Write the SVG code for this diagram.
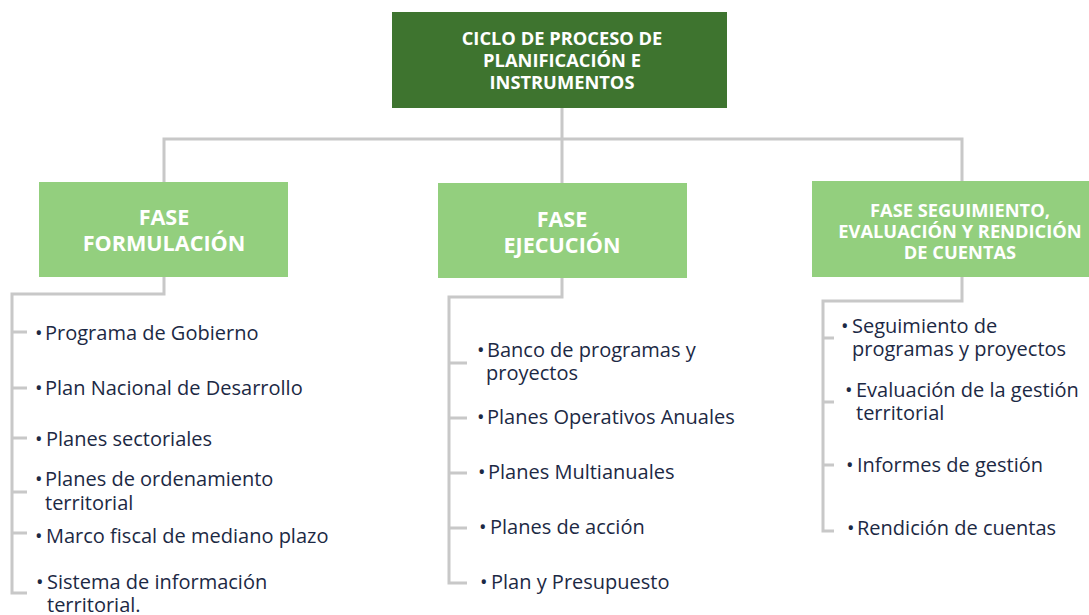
<svg xmlns="http://www.w3.org/2000/svg" width="1089" height="615" viewBox="0 0 1089 615">
<style>
.bg{fill:#ffffff}
.root{fill:#3e742f}
.phase{fill:#93cf7e}
.hd{font-family:"Open Sans","Liberation Sans",sans-serif;font-weight:bold;fill:#ffffff;text-anchor:middle}
.it{font-family:"Open Sans","Liberation Sans",sans-serif;font-size:20px;fill:#1c2944}
.ln{fill:none;stroke:#c8c8c8;stroke-width:3}
</style>
<rect class="bg" x="0" y="0" width="1089" height="615"/>
<g id="connectors">
<path class="ln" d="M562 108 V139 M164 182 V139 H962 V181 M562 139 V183"/>
<path class="ln" d="M164 277 V294 H12 V593 H27 M12 332 H27 M12 388 H27 M12 438 H27 M12 492 H27 M12 533 H27"/>
<path class="ln" d="M562 278 V297 H449 V583 H467 M449 363 H467 M449 418 H467 M449 473 H467 M449 528 H467"/>
<path class="ln" d="M962 277 V301 H823 V531 H834 M823 338 H834 M823 402 H834 M823 465 H834"/>
</g>
<g id="root">
<rect class="root" x="392" y="12" width="335" height="96"/>
<text class="hd" font-size="18.3"><tspan x="562" y="45">CICLO DE PROCESO DE</tspan><tspan x="562" y="67">PLANIFICACIÓN E</tspan><tspan x="562" y="89">INSTRUMENTOS</tspan></text>
</g>
<g id="formulacion">
<rect class="phase" x="39" y="182" width="249" height="95"/>
<text class="hd" font-size="21.6"><tspan x="164" y="225">FASE</tspan><tspan x="164" y="251">FORMULACIÓN</tspan></text>
</g>
<g id="ejecucion">
<rect class="phase" x="438" y="183" width="249" height="95"/>
<text class="hd" font-size="21.6"><tspan x="562" y="227">FASE</tspan><tspan x="562" y="253">EJECUCIÓN</tspan></text>
</g>
<g id="seguimiento">
<rect class="phase" x="812" y="181" width="277" height="96"/>
<text class="hd" font-size="18.3"><tspan x="960" y="217">FASE SEGUIMIENTO,</tspan><tspan x="960" y="238">EVALUACIÓN Y RENDICIÓN</tspan><tspan x="960" y="259">DE CUENTAS</tspan></text>
</g>
<g id="items-formulacion">
<text class="it"><tspan x="35" y="340">•</tspan><tspan x="45" y="340">Programa de Gobierno</tspan></text>
<text class="it"><tspan x="35" y="395">•</tspan><tspan x="45" y="395">Plan Nacional de Desarrollo</tspan></text>
<text class="it"><tspan x="35" y="446">•</tspan><tspan x="46" y="446">Planes sectoriales</tspan></text>
<text class="it"><tspan x="35" y="486">•</tspan><tspan x="45" y="486">Planes de ordenamiento</tspan><tspan x="45" y="510">territorial</tspan></text>
<text class="it"><tspan x="35" y="543">•</tspan><tspan x="46" y="543">Marco fiscal de mediano plazo</tspan></text>
<text class="it"><tspan x="36" y="589">•</tspan><tspan x="47" y="589">Sistema de información</tspan><tspan x="47" y="612">territorial.</tspan></text>
</g>
<g id="items-ejecucion">
<text class="it"><tspan x="477" y="357">•</tspan><tspan x="487" y="357">Banco de programas y</tspan><tspan x="486" y="380">proyectos</tspan></text>
<text class="it"><tspan x="477" y="424">•</tspan><tspan x="487" y="424">Planes Operativos Anuales</tspan></text>
<text class="it"><tspan x="478" y="479">•</tspan><tspan x="488" y="479">Planes Multianuales</tspan></text>
<text class="it"><tspan x="479" y="534">•</tspan><tspan x="490" y="534">Planes de acción</tspan></text>
<text class="it"><tspan x="480" y="589">•</tspan><tspan x="491" y="589">Plan y Presupuesto</tspan></text>
</g>
<g id="items-seguimiento">
<text class="it"><tspan x="841" y="333">•</tspan><tspan x="852" y="333">Seguimiento de</tspan><tspan x="852" y="356">programas y proyectos</tspan></text>
<text class="it"><tspan x="845" y="397">•</tspan><tspan x="856" y="397">Evaluación de la gestión</tspan><tspan x="856" y="420">territorial</tspan></text>
<text class="it"><tspan x="846" y="472">•</tspan><tspan x="857" y="472">Informes de gestión</tspan></text>
<text class="it"><tspan x="847" y="535">•</tspan><tspan x="857" y="535">Rendición de cuentas</tspan></text>
</g>
</svg>
